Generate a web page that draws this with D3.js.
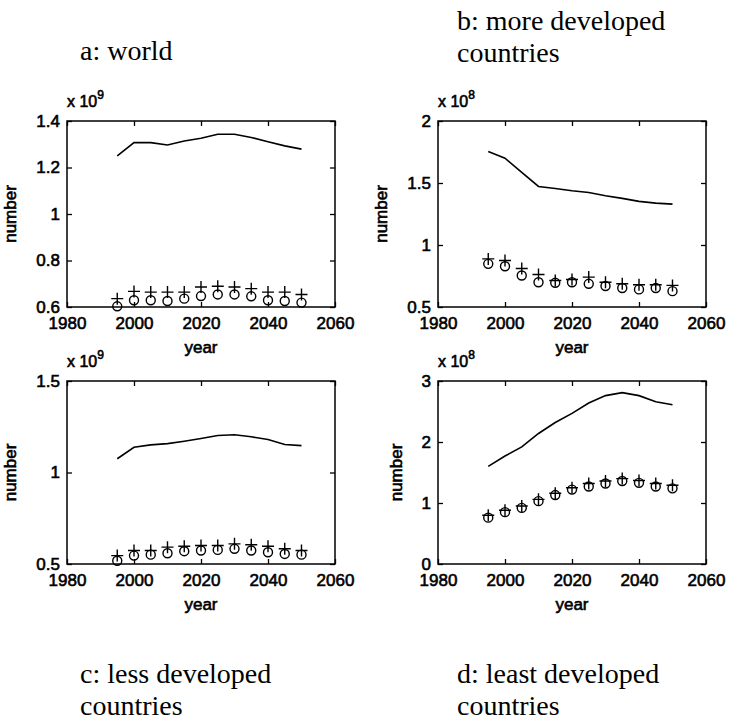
<!DOCTYPE html>
<html>
<head>
<meta charset="utf-8">
<script src="https://cdn.jsdelivr.net/npm/d3@7"></script>
<style>
  body { margin: 0; background: #fff; }
</style>
</head>
<body>
<div id="vis-holder"></div>
<script>
// Data ------------------------------------------------------------------
const years = [1995, 2000, 2005, 2010, 2015, 2020, 2025, 2030, 2035, 2040, 2045, 2050];
const xTicks = [1980, 2000, 2020, 2040, 2060];

// a: world (x 10^9)
const worldLine   = [1.25, 1.307, 1.307, 1.297, 1.314, 1.326, 1.343, 1.343, 1.329, 1.311, 1.293, 1.279];
const worldPlus   = [0.636, 0.667, 0.664, 0.664, 0.664, 0.686, 0.689, 0.686, 0.679, 0.664, 0.664, 0.654];
const worldCircle = [0.603, 0.629, 0.629, 0.626, 0.636, 0.647, 0.654, 0.654, 0.646, 0.629, 0.626, 0.619];
const worldYTicks = [0.6, 0.8, 1, 1.2, 1.4];

// b: more developed countries (x 10^8)
const moreLine   = [1.754, 1.70, 1.585, 1.472, 1.456, 1.437, 1.424, 1.397, 1.376, 1.352, 1.338, 1.33];
const morePlus   = [0.888, 0.875, 0.81, 0.762, 0.714, 0.722, 0.741, 0.70, 0.687, 0.68, 0.68, 0.674];
const moreCircle = [0.848, 0.829, 0.754, 0.70, 0.695, 0.70, 0.687, 0.669, 0.653, 0.642, 0.653, 0.628];
const moreYTicks = [0.5, 1, 1.5, 2];

// c: less developed countries (x 10^9)
const lessLine   = [1.075, 1.138, 1.151, 1.158, 1.171, 1.186, 1.202, 1.206, 1.195, 1.18, 1.153, 1.147];
const lessPlus   = [0.546, 0.574, 0.574, 0.592, 0.597, 0.601, 0.601, 0.61, 0.605, 0.597, 0.583, 0.574];
const lessCircle = [0.518, 0.546, 0.551, 0.559, 0.57, 0.574, 0.577, 0.583, 0.574, 0.564, 0.555, 0.551];
const lessYTicks = [0.5, 1, 1.5];

// d: least developed countries (x 10^8)
const leastLine   = [1.60, 1.77, 1.92, 2.14, 2.32, 2.47, 2.64, 2.76, 2.81, 2.76, 2.66, 2.61];
const leastPlus   = [0.80, 0.88, 0.95, 1.06, 1.16, 1.25, 1.32, 1.36, 1.40, 1.37, 1.32, 1.29];
const leastCircle = [0.76, 0.85, 0.92, 1.03, 1.13, 1.22, 1.27, 1.32, 1.36, 1.33, 1.27, 1.24];
const leastYTicks = [0, 1, 2, 3];

const titleA = ["a: world"];
const titleB = ["b: more developed", "countries"];
const titleC = ["c: less developed", "countries"];
const titleD = ["d: least developed", "countries"];

// Layout ----------------------------------------------------------------
const width = 729;
const height = 720;
const tickFont = "'Liberation Sans', Arial, Helvetica, sans-serif";
const titleFont = "'Liberation Serif', 'Times New Roman', serif";

const svg = d3.select("#vis-holder")
  .append("svg")
  .attr("width", width)
  .attr("height", height);

const panels = [
  { line: worldLine, plus: worldPlus, circle: worldCircle, yTicks: worldYTicks, exp: "9",
    box: { x: 67, y: 121, w: 268, h: 186 }, title: titleA, titleX: 80, titleY: 60 },
  { line: moreLine, plus: morePlus, circle: moreCircle, yTicks: moreYTicks, exp: "8",
    box: { x: 438, y: 121, w: 268, h: 186 }, title: titleB, titleX: 457, titleY: 30 },
  { line: lessLine, plus: lessPlus, circle: lessCircle, yTicks: lessYTicks, exp: "9",
    box: { x: 67, y: 381, w: 268, h: 183 }, title: titleC, titleX: 80, titleY: 683 },
  { line: leastLine, plus: leastPlus, circle: leastCircle, yTicks: leastYTicks, exp: "8",
    box: { x: 438, y: 381, w: 268, h: 183 }, title: titleD, titleX: 457, titleY: 683 }
];

// heavy-ish sans text like the scanned matlab labels
function sansText(sel, size) {
  return sel.attr("fill", "#000")
    .attr("stroke", "#000")
    .attr("stroke-width", 0.6)
    .style("font-family", tickFont)
    .style("font-size", size + "px");
}

panels.forEach((p) => {
  const b = p.box;
  const x = d3.scaleLinear().domain([1980, 2060]).range([b.x, b.x + b.w]);
  const y = d3.scaleLinear().domain(d3.extent(p.yTicks)).range([b.y + b.h, b.y]);

  const g = svg.append("g");

  // ticks inside the box, on all four sides
  const styleAxis = (sel) => {
    sel.select(".domain").remove();
    sel.selectAll("line").attr("stroke", "#000").attr("stroke-width", 1.3);
    sansText(sel.selectAll("text"), 17);
  };

  g.append("g")
    .attr("transform", `translate(0,${b.y + b.h})`)
    .call(d3.axisBottom(x).tickValues(xTicks).tickSizeInner(-5).tickSizeOuter(0).tickPadding(10)
      .tickFormat((d) => String(d)))
    .call(styleAxis);

  g.append("g")
    .attr("transform", `translate(0,${b.y})`)
    .call(d3.axisTop(x).tickValues(xTicks).tickSizeInner(-5).tickSizeOuter(0).tickFormat(""))
    .call(styleAxis);

  const yAxisG = g.append("g")
    .attr("transform", `translate(${b.x},0)`)
    .call(d3.axisLeft(y).tickValues(p.yTicks).tickSizeInner(-5).tickSizeOuter(0).tickPadding(7)
      .tickFormat((d) => String(d)))
    .call(styleAxis);

  g.append("g")
    .attr("transform", `translate(${b.x + b.w},0)`)
    .call(d3.axisRight(y).tickValues(p.yTicks).tickSizeInner(-5).tickSizeOuter(0).tickFormat(""))
    .call(styleAxis);

  // box
  g.append("rect")
    .attr("x", b.x).attr("y", b.y)
    .attr("width", b.w).attr("height", b.h)
    .attr("fill", "none")
    .attr("stroke", "#000")
    .attr("stroke-width", 1.5);

  // exponent label
  const expText = g.append("text")
    .attr("x", b.x)
    .attr("y", b.y - 14)
    .call(sansText, 16);
  expText.append("tspan").text("x 10");
  expText.append("tspan").attr("dy", -8).style("font-size", "12px").text(p.exp);

  // axis labels
  g.append("text")
    .attr("x", b.x + b.w / 2)
    .attr("y", b.y + b.h + 46)
    .attr("text-anchor", "middle")
    .call(sansText, 17)
    .text("year");

  let maxW = 0;
  yAxisG.selectAll("text").each(function () { maxW = Math.max(maxW, this.getBBox().width); });
  const labX = b.x - 7 - maxW - 20;
  g.append("text")
    .attr("transform", `translate(${labX},${b.y + b.h / 2}) rotate(-90)`)
    .attr("text-anchor", "middle")
    .call(sansText, 17)
    .text("number");

  // total line
  const line = d3.line()
    .x((d, i) => x(years[i]))
    .y((d) => y(d));

  g.append("path")
    .datum(p.line)
    .attr("d", line)
    .attr("fill", "none")
    .attr("stroke", "#000")
    .attr("stroke-width", 1.6);

  // plus markers
  g.selectAll(".plus")
    .data(p.plus)
    .enter()
    .append("path")
    .attr("class", "plus")
    .attr("d", (d, i) => {
      const cx = x(years[i]), cy = y(d);
      return `M${cx - 6},${cy}H${cx + 6}M${cx},${cy - 6}V${cy + 6}`;
    })
    .attr("fill", "none")
    .attr("stroke", "#000")
    .attr("stroke-width", 1.4);

  // circle markers
  g.selectAll(".circ")
    .data(p.circle)
    .enter()
    .append("circle")
    .attr("class", "circ")
    .attr("cx", (d, i) => x(years[i]))
    .attr("cy", (d) => y(d))
    .attr("r", 4.5)
    .attr("fill", "none")
    .attr("stroke", "#000")
    .attr("stroke-width", 1.4);

  // panel title
  p.title.forEach((t, i) => {
    svg.append("text")
      .attr("x", p.titleX)
      .attr("y", p.titleY + i * 32)
      .attr("fill", "#000")
      .style("font-family", titleFont)
      .style("font-size", "28px")
      .text(t);
  });
});
</script>
</body>
</html>
